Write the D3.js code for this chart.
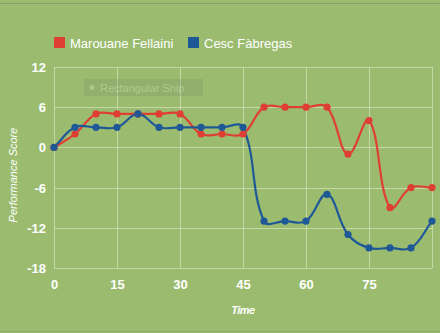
<!DOCTYPE html>
<html>
<head>
<meta charset="utf-8">
<script src="https://cdn.jsdelivr.net/npm/d3@7"></script>
<style>
  html, body { margin: 0; padding: 0; background: #9bbc6f; }
  svg { display: block; font-family: "Liberation Sans", Arial, sans-serif; }
</style>
</head>
<body>
<svg id="chart" width="440" height="333"></svg>
<script>
// Match minutes (every 5 minutes)
const minutes = [0, 5, 10, 15, 20, 25, 30, 35, 40, 45, 50, 55, 60, 65, 70, 75, 80, 85, 90];
// Performance scores per player
const fellaini = [0, 2, 5, 5, 5, 5, 5, 2, 2, 2, 6, 6, 6, 6, -1, 4, -9, -6, -6];
const fabregas = [0, 3, 3, 3, 5, 3, 3, 3, 3, 3, -11, -11, -11, -7, -13, -15, -15, -15, -11];
const seriesNames = ["Marouane Fellaini", "Cesc Fàbregas"];
const seriesColors = ["#df3f33", "#1f5896"];
const xTicks = [0, 15, 30, 45, 60, 75];
const yTicks = [12, 6, 0, -6, -12, -18];

const svg = d3.select("#chart");
const W = 440, H = 333;

// Distance-weighted spline (tension 0.4) used as a d3 curve factory
function weightedSpline(context) {
  let pts = [];
  return {
    areaStart() {}, areaEnd() {},
    lineStart() { pts = []; },
    point(px, py) { pts.push([+px, +py]); },
    lineEnd() {
      const t = 0.4, n = pts.length;
      if (!n) return;
      const cps = pts.map((cur, i) => {
        const prev = pts[Math.max(0, i - 1)], next = pts[Math.min(n - 1, i + 1)];
        const d01 = Math.hypot(cur[0] - prev[0], cur[1] - prev[1]);
        const d12 = Math.hypot(next[0] - cur[0], next[1] - cur[1]);
        let s01 = d01 / (d01 + d12), s12 = d12 / (d01 + d12);
        if (!isFinite(s01)) s01 = 0;
        if (!isFinite(s12)) s12 = 0;
        const fa = t * s01, fb = t * s12;
        return {
          before: [cur[0] - fa * (next[0] - prev[0]), cur[1] - fa * (next[1] - prev[1])],
          after: [cur[0] + fb * (next[0] - prev[0]), cur[1] + fb * (next[1] - prev[1])]
        };
      });
      context.moveTo(pts[0][0], pts[0][1]);
      for (let i = 1; i < n; i++) {
        context.bezierCurveTo(cps[i - 1].after[0], cps[i - 1].after[1],
          cps[i].before[0], cps[i].before[1], pts[i][0], pts[i][1]);
      }
    }
  };
}

// background and thin border lines
svg.append("rect").attr("width", W).attr("height", H).attr("fill", "#9bbc6f");
svg.append("line").attr("x1", 0).attr("x2", W).attr("y1", 3.5).attr("y2", 3.5)
  .attr("stroke", "#8a9f6a").attr("stroke-width", 1);
svg.append("line").attr("x1", 0).attr("x2", W).attr("y1", 331.5).attr("y2", 331.5)
  .attr("stroke", "#8fa86c").attr("stroke-width", 1);

const x = d3.scaleLinear().domain([0, 90]).range([54, 432]);
const y = d3.scaleLinear().domain([-18, 12]).range([268, 67]);

// grid
const grid = svg.append("g").attr("stroke", "#e6efd6").attr("stroke-opacity", 0.55).attr("stroke-width", 1);
[0, 15, 30, 45, 60, 75, 90].forEach(v => {
  grid.append("line").attr("x1", x(v) + 0.5).attr("x2", x(v) + 0.5)
    .attr("y1", y(12)).attr("y2", y(-18));
});
yTicks.forEach(v => {
  grid.append("line").attr("x1", x(0)).attr("x2", x(90))
    .attr("y1", Math.round(y(v)) + 0.5).attr("y2", Math.round(y(v)) + 0.5);
});

// axes (labels only)
const xAxis = svg.append("g").attr("transform", `translate(0,${y(-18) + 6})`)
  .call(d3.axisBottom(x).tickValues(xTicks).tickSize(0).tickPadding(3));
const yAxis = svg.append("g").attr("transform", `translate(${x(0) - 6},0)`)
  .call(d3.axisLeft(y).tickValues(yTicks).tickSize(0).tickPadding(2)
    .tickFormat(d => d < 0 ? "-" + Math.abs(d) : d));
[xAxis, yAxis].forEach(a => {
  a.select(".domain").remove();
  a.selectAll("text").attr("fill", "#ffffff").attr("font-size", 13)
    .attr("font-weight", "bold").attr("font-family", "\"Liberation Sans\", Arial, sans-serif");
});
yAxis.selectAll("text").attr("dy", "0.35em");
xAxis.selectAll("text").attr("dy", "0.9em");

// axis titles
svg.append("text").attr("x", 243).attr("y", 314).attr("text-anchor", "middle")
  .attr("fill", "#ffffff").attr("font-size", 11).attr("font-style", "italic")
  .attr("font-weight", "bold").attr("letter-spacing", -0.5).text("Time");
svg.append("text").attr("transform", "translate(17,175) rotate(-90)")
  .attr("text-anchor", "middle").attr("fill", "#ffffff").attr("font-size", 11)
  .attr("font-style", "italic").text("Performance Score");

// faint overlay box
const snip = svg.append("g").attr("opacity", 0.28);
snip.append("rect").attr("x", 84).attr("y", 79).attr("width", 119).attr("height", 17)
  .attr("fill", "#7d8f6a");
snip.append("circle").attr("cx", 92).attr("cy", 87.5).attr("r", 2.5).attr("fill", "#dfe6d6");
snip.append("text").attr("x", 100).attr("y", 92).attr("font-size", 11)
  .attr("fill", "#e3e9da").text("Rectangular Snip");

// lines and points
const data = [fellaini, fabregas];
const line = d3.line()
  .x((d, i) => x(minutes[i]))
  .y(d => y(d))
  .curve(weightedSpline);

data.forEach((vals, k) => {
  svg.append("path").datum(vals).attr("d", line)
    .attr("fill", "none").attr("stroke", seriesColors[k]).attr("stroke-width", 2.2);
});
data.forEach((vals, k) => {
  svg.append("g").selectAll("circle").data(vals).join("circle")
    .attr("cx", (d, i) => x(minutes[i])).attr("cy", d => y(d)).attr("r", 3.6)
    .attr("fill", seriesColors[k]);
});

// legend
const legendX = [54, 188];
seriesNames.forEach((name, k) => {
  svg.append("rect").attr("x", legendX[k]).attr("y", 37).attr("width", 11).attr("height", 11)
    .attr("fill", seriesColors[k]);
  svg.append("text").attr("x", legendX[k] + 16).attr("y", 47.5)
    .attr("fill", "#ffffff").attr("font-size", 13).text(name);
});
</script>
</body>
</html>
